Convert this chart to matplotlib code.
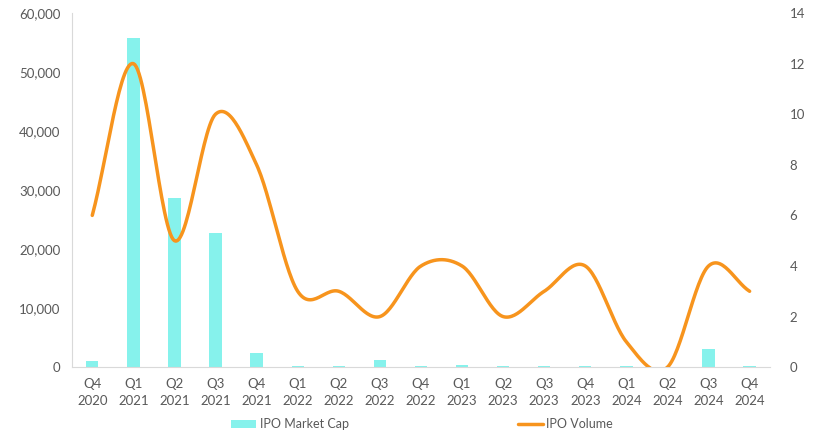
import matplotlib
matplotlib.use("Agg")
import matplotlib.pyplot as plt
import numpy as np
from matplotlib.ticker import FuncFormatter

quarters = ["Q4\n2020", "Q1\n2021", "Q2\n2021", "Q3\n2021", "Q4\n2021",
            "Q1\n2022", "Q2\n2022", "Q3\n2022", "Q4\n2022",
            "Q1\n2023", "Q2\n2023", "Q3\n2023", "Q4\n2023",
            "Q1\n2024", "Q2\n2024", "Q3\n2024", "Q4\n2024"]
market_cap = [1000, 55800, 28600, 22800, 2350, 150, 150, 1150, 150,
              400, 150, 150, 150, 150, 0, 3150, 150]
ipo_volume = [6, 12, 5, 10, 8, 3, 3, 2, 4, 4, 2, 3, 4, 1, 0, 4, 3]

BAR_C = "#86F2EC"
LINE_C = "#F7941D"
TXT_C = "#595959"


def smooth(x, y, n=30):
    # Catmull-Rom, roughly what a spreadsheet "smoothed line" draws
    x = np.asarray(x, float)
    y = np.asarray(y, float)
    px = np.concatenate([[2 * x[0] - x[1]], x, [2 * x[-1] - x[-2]]])
    py = np.concatenate([[2 * y[0] - y[1]], y, [2 * y[-1] - y[-2]]])
    xs, ys = [], []
    t = np.linspace(0, 1, n)
    for i in range(1, len(px) - 2):
        for arr, out in ((px, xs), (py, ys)):
            p0, p1, p2, p3 = arr[i - 1:i + 3]
            out.append(0.5 * (2 * p1 + (-p0 + p2) * t
                              + (2 * p0 - 5 * p1 + 4 * p2 - p3) * t ** 2
                              + (-p0 + 3 * p1 - 3 * p2 + p3) * t ** 3))
    return np.concatenate(xs), np.concatenate(ys)


plt.rcParams["font.family"] = ["Lato", "DejaVu Sans"]
fig = plt.figure(figsize=(8.15, 4.33), dpi=100)
ax = fig.add_axes([0.088, 0.152, 0.857, 0.818])
ax2 = ax.twinx()

x = np.arange(len(quarters))
ax.bar(x, market_cap, width=0.3, color=BAR_C, label="IPO Market Cap", zorder=2)
sx, sy = smooth(x, ipo_volume)
ax2.plot(sx, sy, color=LINE_C, lw=2.5, label="IPO Volume", solid_capstyle="round")

ax.set_xlim(-0.5, len(quarters) - 0.5)
ax.set_ylim(0, 60000)
ax2.set_ylim(0, 14)
ax.set_yticks(np.arange(0, 60001, 10000))
ax2.set_yticks(np.arange(0, 15, 2))
ax.yaxis.set_major_formatter(FuncFormatter(lambda v, p: f"{int(v):,}"))
ax.set_xticks(x)
ax.set_xticklabels(quarters, linespacing=1.5)

for a in (ax, ax2):
    for s in a.spines.values():
        s.set_visible(False)
    a.tick_params(length=0, colors=TXT_C, labelsize=9.5)
ax.spines["left"].set_visible(True)
ax.spines["bottom"].set_visible(True)
ax.spines["left"].set_color("#D9D9D9")
ax.spines["bottom"].set_color("#D9D9D9")
ax.tick_params(axis="x", pad=8)
ax.tick_params(axis="y", pad=8)
ax2.tick_params(axis="y", pad=14)
for lbl in ax2.get_yticklabels():
    lbl.set_horizontalalignment("left")

h1, l1 = ax.get_legend_handles_labels()
h2, l2 = ax2.get_legend_handles_labels()
fig.legend(h1 + h2, l1 + l2, loc="center", bbox_to_anchor=(0.518, 0.02),
           ncol=2, frameon=False, fontsize=9, labelcolor=TXT_C,
           columnspacing=13.5, handlelength=2.0, handleheight=0.6, handletextpad=0.3)

fig.savefig("out.png", dpi=100)
